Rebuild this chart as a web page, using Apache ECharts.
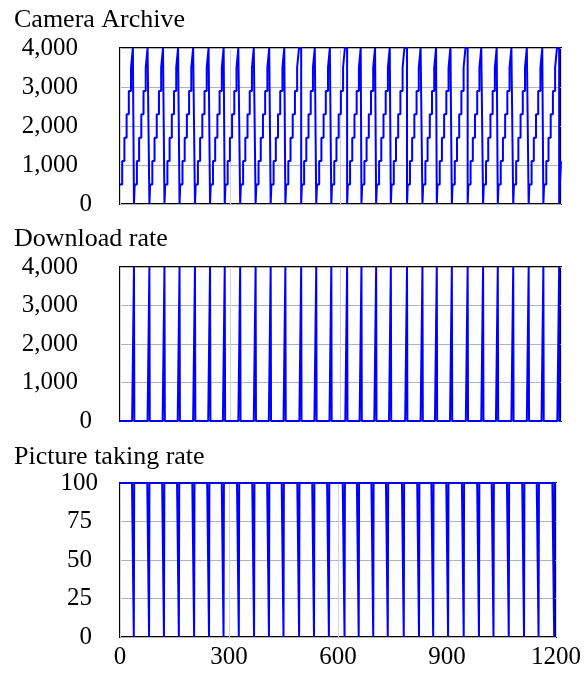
<!DOCTYPE html>
<html>
<head>
<meta charset="utf-8">
<script src="https://cdn.jsdelivr.net/npm/echarts@6/dist/echarts.min.js"></script>
<style>
  html, body { margin: 0; padding: 0; background: #fff; }
  #chart { width: 584px; height: 673px; }
</style>
</head>
<body>
<div id="chart"></div>
<script>
// times where the archive gets emptied by a download
const downloadTimes = [38, 80, 121, 162, 204, 245, 285, 327, 369, 410, 450, 493, 534, 575,
  618, 657, 697, 737, 781, 823, 862, 903, 946, 988, 1028, 1070, 1112, 1152, 1195];
// staircase of the archive inside one fill cycle (time after download, level)
const archiveOffsets = [2, 8, 14, 20, 26, 32, 37];
const archiveLevels = [500, 1100, 1700, 2300, 2900, 3500, 4000];
const archiveEnd = [1200, 1100];
const downloadPeak = 4000;
const pictureRate = 100;
const xTicks = [0, 300, 600, 900, 1200];

const FONT = 'Liberation Serif';
const BLUE = '#0000ff';

// build the series point lists
const archive = [];
let prev = -2;
downloadTimes.forEach(d => {
  if (prev >= 0) archive.push([prev, 0]);
  archiveOffsets.forEach((o, i) => {
    if (prev + o < d) archive.push([Math.max(prev + o, 0), archiveLevels[i]]);
  });
  prev = d;
});
archive.push([prev, 0]);
archiveOffsets.forEach((o, i) => {
  if (prev + o < archiveEnd[0]) archive.push([prev + o, archiveLevels[i]]);
});
archive.push(archiveEnd);

const download = [[0, 0]];
const picture = [[0, pictureRate]];
downloadTimes.forEach(d => {
  download.push([d - 5, 0], [d, downloadPeak], [d + 1, 0]);
  picture.push([d - 5, pictureRate], [d, 0], [d + 1, pictureRate]);
});
download.push([1200, 0]);
picture.push([1200, pictureRate]);

const chart = echarts.init(document.getElementById('chart'), null, { renderer: 'canvas' });

const grids = [
  { left: 120, right: 23, top: 48, height: 156 },
  { left: 120, right: 23, top: 267, height: 154 },
  { left: 120, right: 23, top: 483, height: 154 }
].map(g => Object.assign(g, { show: true, borderColor: '#000', borderWidth: 2 }));

function xAxis(i, labels) {
  return {
    type: 'value', gridIndex: i, min: xTicks[0], max: xTicks[xTicks.length - 1], interval: 300,
    axisLine: { show: false }, axisTick: { show: false },
    splitLine: { show: true, lineStyle: { color: '#d4d4d4', width: 1 } },
    axisLabel: {
      show: labels, fontFamily: FONT, fontSize: 25, color: '#000', margin: 8,
      formatter: v => String(v)
    }
  };
}

// zeroPad / numPad: extra right padding so labels sit like the reference
function yAxis(i, max, interval, margin, zeroPad, numPad, topPad) {
  return {
    type: 'value', gridIndex: i, min: 0, max: max, interval: interval,
    axisLine: { show: false }, axisTick: { show: false },
    splitLine: { show: true, lineStyle: { color: '#b4b4b4', width: 1 } },
    axisLabel: {
      fontFamily: FONT, fontSize: 25, color: '#000', margin: margin,
      formatter: v => v === 0 ? '{z|0}' : (v === max ? '{t|' : '{n|') + v.toLocaleString('en-US') + '}',
      rich: {
        z: { fontFamily: FONT, fontSize: 25, color: '#000', padding: [0, zeroPad, 0, 0] },
        n: { fontFamily: FONT, fontSize: 25, color: '#000', padding: [0, numPad, 0, 0] },
        t: { fontFamily: FONT, fontSize: 25, color: '#000', padding: [0, topPad, 0, 0] }
      }
    }
  };
}

function title(text, top) {
  return {
    text: text, left: 14, top: top, padding: 0,
    textStyle: { fontFamily: FONT, fontSize: 26, fontWeight: 'normal', color: '#000' }
  };
}

function line(i, data, step) {
  return {
    type: 'line', xAxisIndex: i, yAxisIndex: i, data: data, step: step,
    showSymbol: false, symbol: 'none', silent: true,
    lineStyle: { color: BLUE, width: 2 }
  };
}

chart.setOption({
  animation: false,
  title: [title('Camera Archive', 7), title('Download rate', 226), title('Picture taking rate', 444)],
  grid: grids,
  xAxis: [xAxis(0, false), xAxis(1, false), xAxis(2, true)],
  yAxis: [
    yAxis(0, 4000, 1000, 28, 0, 14, 14),
    yAxis(1, 4000, 1000, 28, 0, 14, 14),
    yAxis(2, 100, 25, 22, 6, 6, 0)
  ],
  series: [line(0, archive, 'end'), line(1, download, false), line(2, picture, false)]
});
</script>
</body>
</html>
